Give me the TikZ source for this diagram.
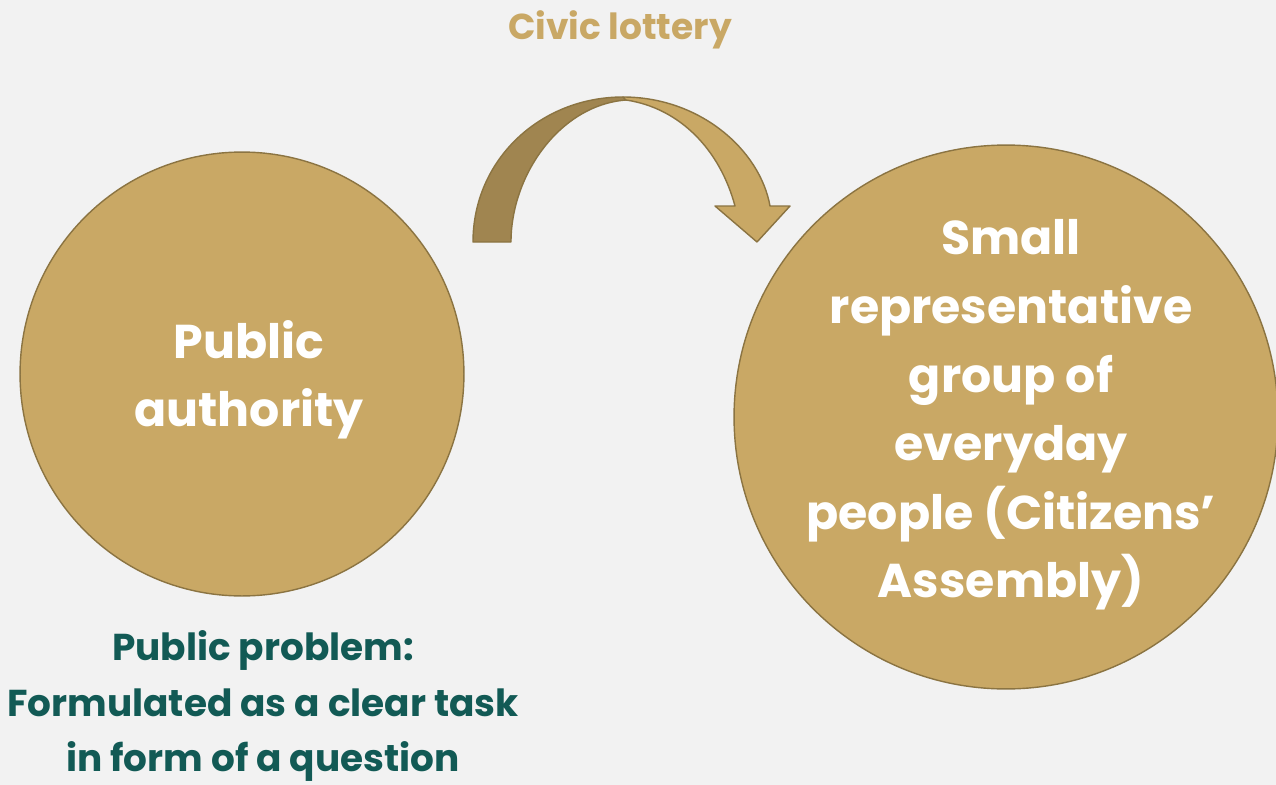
\documentclass[tikz,border=0pt]{standalone}
\usepackage{fontspec}
\setmainfont{Poppins}
\usetikzlibrary{positioning}
\definecolor{gold}{HTML}{C9A865}
\definecolor{goldedge}{HTML}{8B7442}
\definecolor{golddark}{HTML}{A08550}
\definecolor{teal}{HTML}{125A55}
\definecolor{paper}{HTML}{F2F2F2}
\tikzset{disc/.style={circle, draw=goldedge, fill=gold, line width=0.8pt, inner sep=0pt}}
\tikzset{disctext/.style={text=white, align=center, font=\bfseries\fontsize{27}{39}\selectfont}}
\tikzset{ribbon/.style={draw=goldedge, line width=0.8pt, line join=round}}
\tikzset{caption/.style={align=center, font=\bfseries\fontsize{21.3}{31.7}\selectfont}}

\begin{document}
\begin{tikzpicture}[x=0.02cm, y=-0.02cm]
    \fill[paper] (0,0) rectangle (1276,785);
    \useasboundingbox (0,0) rectangle (1276,785);
    %
    \node[disc, minimum size=8.88cm, label={[disctext, xshift=0.14cm, yshift=-0.12cm]center:Public\\authority}] (pa) at (242,374) {};
    \node[disc, minimum size=10.88cm, label={[disctext, xshift=0.1cm, yshift=0.04cm]center:Small\\representative\\group of\\everyday\\people (Citizens’\\Assembly)}] (ca) at (1006,417) {};
    %
    \node[caption, text=gold, font=\bfseries\fontsize{20.5}{24}\selectfont] (lot) at (620,30) {Civic lottery};
    \node[caption, text=teal] (pp) at (263,706) {Public problem:\\Formulated as a clear task\\in form of a question};
    % curved arrow, back side then front side
    \coordinate (tip) at (757,242);
    \draw[ribbon, fill=golddark] (473,242) .. controls (473,160) and (540,97) .. (623,97)
        -- (626,100) .. controls (560,105) and (511,175) .. (511,242) -- cycle;
    \draw[ribbon, fill=gold] (623,97) .. controls (700,97) and (760,150) .. (770,206)
        -- (790,206) -- (tip) -- (715,206) -- (735,206)
        .. controls (720,150) and (680,108) .. (626,100) -- cycle;
\end{tikzpicture}
\end{document}
